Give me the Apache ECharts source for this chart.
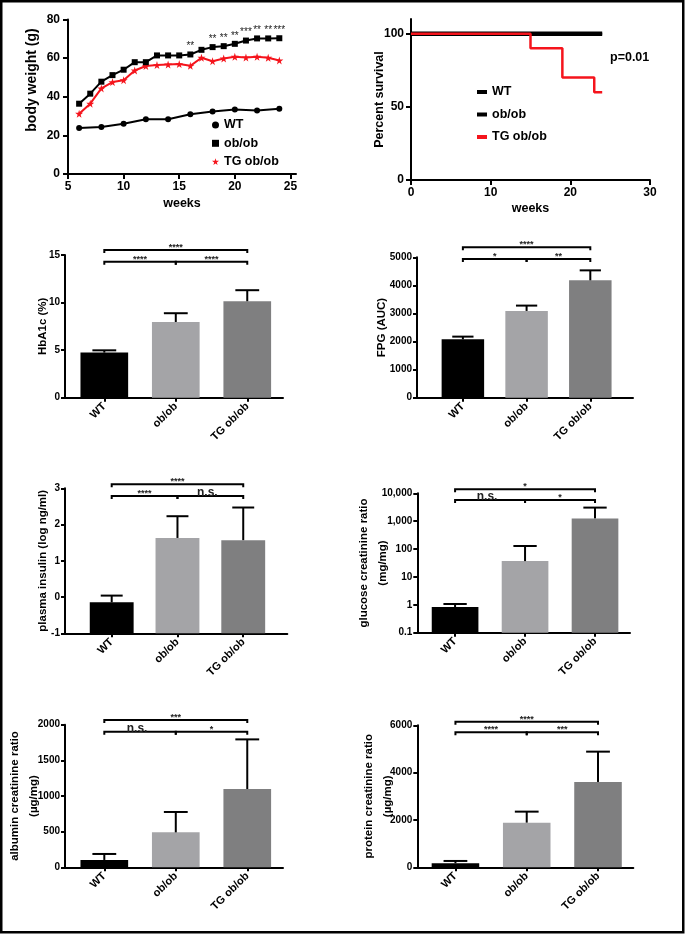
<!DOCTYPE html>
<html><head><meta charset="utf-8">
<script src="https://cdn.jsdelivr.net/npm/echarts@6/dist/echarts.min.js"></script>
<style>html,body{margin:0;padding:0;background:#fff}#c{width:685px;height:934px}</style>
</head><body><div id="c"></div>
<script>
// ---------------- data ----------------
const groups = ['WT', 'ob/ob', 'TG ob/ob'];

// body weight panel
const weightWeeks = [6,7,8,9,10,11,12,13,14,15,16,17,18,19,20,21,22,23,24];
const wtWeeks = [6,8,10,12,14,16,18,20,22,24];
const wtWeight = [23.8,24.3,26.0,28.4,28.4,30.9,32.4,33.4,32.9,33.8];
const obWeight = [36.4,41.6,47.8,51.2,54.0,57.9,57.9,61.4,61.4,61.4,61.9,64.3,65.7,66.2,67.4,69.1,70.2,70.2,70.3];
const tgWeight = [31.2,36.4,44.3,47.6,48.6,53.6,55.9,56.4,56.7,56.9,56.0,60.2,58.4,59.8,60.7,60.3,60.7,60.2,58.8];
const weightStars = ['','','','','','','','','','','**','','**','**','**','***','**','**','***'];
const weightXTicks = [5,10,15,20,25];

// survival panel
const survWeeksCtrl = [0,24];
const survWT = [100,100];
const survOb = [100,100];
const survWeeksTG = [0,15,19,23,24];
const survTG = [100,90,70,60,60];
const survYTicks = [0,50,100];
const survP = 'p=0.01';

// bar panels: mean and upper error (SEM)
const hba1cMean = [4.74, 7.96, 10.14];
const hba1cErr  = [0.24, 0.92, 1.16];
const hba1cSig  = ['****','****','****'];

const fpgMean = [2080, 3090, 4180];
const fpgErr  = [95, 190, 355];
const fpgSig  = ['****','*','**'];

const insulinMean = [-0.145, 1.63, 1.57];
const insulinErr  = [0.185, 0.60, 0.90];
const insulinSig  = ['****','****','n.s.'];

const glucoseMean = [0.83, 37, 1260];
const glucoseErr  = [0.24, 92, 1810];
const glucoseSig  = ['*','n.s.','*'];
const glucoseTicks = ['0.1','1','10','100','1,000','10,000'];

const albuminMean = [103, 490, 1098];
const albuminErr  = [84, 286, 696];
const albuminSig  = ['***','n.s.','*'];

const proteinMean = [169, 1887, 3606];
const proteinErr  = [99, 465, 1281];
const proteinSig  = ['****','****','***'];

// comparisons: [from, to, row]  (row 0 = upper bracket, row 1 = lower)
const comparisons = [[0,2,0],[0,1,1],[1,2,1]];

// ---------------- chart ----------------
const FONT = '"Liberation Sans", Arial, Helvetica, sans-serif';
const RED = '#f5141c';
const barColors = ['#000000', '#a4a4a7', '#7f7f80'];
const starPath = 'path://M50,0 L61,35 L98,35 L68,57 L79,91 L50,70 L21,91 L32,57 L2,35 L39,35 Z';
const plain = v => String(v);

const AX_LINE = {show:true, onZero:false, lineStyle:{color:'#000', width:2}};
const tickStyle = (len) => ({show:true, length:len, lineStyle:{color:'#000', width:2}});
const lblStyle = (size, extra) => Object.assign({color:'#000', fontWeight:'bold', fontSize:size, fontFamily:FONT}, extra||{});

const grids = [];
const xAxes = [];
const yAxes = [];
const series = [];

// Panel 0: body weight
grids.push({left:68, top:19.5, width:228, height:154.5});
xAxes.push({type:'value', gridIndex:0, min:5, max:25.5,
  name:'weeks', nameLocation:'middle', nameGap:23, nameMoveOverlap:false, nameTextStyle:lblStyle(12.5),
  axisLine:AX_LINE, axisTick:Object.assign(tickStyle(5),{customValues:weightXTicks}),
  axisLabel:lblStyle(12,{margin:7, customValues:weightXTicks, formatter:plain}), splitLine:{show:false}});
yAxes.push({type:'value', gridIndex:0, min:0, max:80, interval:20,
  axisLine:AX_LINE, axisTick:tickStyle(5), axisLabel:lblStyle(12,{margin:8, formatter:plain}), splitLine:{show:false}});
series.push({type:'line', name:'WT', xAxisIndex:0, yAxisIndex:0,
  data: wtWeeks.map((w,i)=>[w, wtWeight[i]]), symbol:'circle', symbolSize:6,
  itemStyle:{color:'#000'}, lineStyle:{color:'#000', width:2}, z:3});
series.push({type:'line', name:'TG ob/ob', xAxisIndex:0, yAxisIndex:0,
  data: weightWeeks.map((w,i)=>[w, tgWeight[i]]), symbol:starPath, symbolSize:8,
  itemStyle:{color:RED}, lineStyle:{color:RED, width:2}, z:3});
series.push({type:'line', name:'ob/ob', xAxisIndex:0, yAxisIndex:0,
  data: weightWeeks.map((w,i)=>[w, obWeight[i]]), symbol:'rect', symbolSize:6,
  itemStyle:{color:'#000'}, lineStyle:{color:'#000', width:2}, z:4,
  label:{show:true, position:'top', distance:0, fontSize:10, color:'#222', fontFamily:FONT,
    formatter: p => weightStars[p.dataIndex]}});

// Panel 1: survival
grids.push({left:411, top:19, width:239, height:161});
xAxes.push({type:'value', gridIndex:1, min:0, max:30, interval:10,
  name:'weeks', nameLocation:'middle', nameGap:22, nameMoveOverlap:false, nameTextStyle:lblStyle(12.5),
  axisLine:AX_LINE, axisTick:tickStyle(5), axisLabel:lblStyle(12,{margin:7, formatter:plain}), splitLine:{show:false}});
yAxes.push({type:'value', gridIndex:1, min:0, max:110,
  name:'Percent survival', nameLocation:'middle', nameGap:25, nameMoveOverlap:false, nameTextStyle:lblStyle(12.5),
  axisLine:AX_LINE, axisTick:Object.assign(tickStyle(5),{customValues:survYTicks}),
  axisLabel:lblStyle(12,{margin:7, customValues:survYTicks, formatter:plain}), splitLine:{show:false}});
series.push({type:'line', name:'WT', xAxisIndex:1, yAxisIndex:1, step:'end',
  data: survWeeksCtrl.map((w,i)=>[w, survWT[i]]), showSymbol:false,
  itemStyle:{color:'#000'}, lineStyle:{color:'#000', width:4.5}, z:3});
series.push({type:'line', name:'ob/ob', xAxisIndex:1, yAxisIndex:1, step:'end',
  data: survWeeksCtrl.map((w,i)=>[w, survOb[i]]), showSymbol:false,
  itemStyle:{color:'#000'}, lineStyle:{color:'#000', width:2}, z:3});
series.push({type:'line', name:'TG ob/ob', xAxisIndex:1, yAxisIndex:1, step:'end',
  data: survWeeksTG.map((w,i)=>[w, survTG[i]]), showSymbol:false,
  itemStyle:{color:RED}, lineStyle:{color:RED, width:2.5}, z:3});

// Bar panels
const barPanels = [
  {name:'HbA1c (%)', mean:hba1cMean, err:hba1cErr, sig:hba1cSig,
   grid:{left:65, top:255, width:218, height:142.7}, xr:[-0.55,2.5],
   y:{type:'value', min:0, max:15, interval:5}, nameGap:12.5, offs:[-5,6.7]},
  {name:'FPG (AUC)', mean:fpgMean, err:fpgErr, sig:fpgSig,
   grid:{left:417, top:257.3, width:216, height:140.4}, xr:[-0.72,2.67],
   y:{type:'value', min:0, max:5000, interval:1000}, nameGap:25.8, offs:[-10,1.7]},
  {name:'plasma insulin (log ng/ml)', mean:insulinMean, err:insulinErr, sig:insulinSig,
   grid:{left:65, top:488.3, width:222.3, height:145}, xr:[-0.71,2.67],
   y:{type:'value', min:-1, max:3, interval:1}, nameGap:12.8, offs:[-4,7.7]},
  {name:'glucose creatinine ratio\n(mg/mg)', mean:glucoseMean, err:glucoseErr, sig:glucoseSig,
   grid:{left:417.3, top:493.3, width:212.7, height:139.4}, xr:[-0.54,2.5],
   y:{type:'log', logBase:10, min:0.1, max:10000}, nameGap:24.5, offs:[-4,6.7],
   fmt: v => glucoseTicks[Math.round(Math.log10(v)) + 1]},
  {name:'albumin creatinine ratio\n(\u00b5g/mg)', mean:albuminMean, err:albuminErr, sig:albuminSig,
   grid:{left:65, top:724.7, width:218, height:142.6}, xr:[-0.55,2.5],
   y:{type:'value', min:0, max:2000, interval:500}, nameGap:22, offs:[-4.7,7]},
  {name:'protein creatinine ratio\n(\u00b5g/mg)', mean:proteinMean, err:proteinErr, sig:proteinSig,
   grid:{left:417.3, top:725.3, width:216, height:142}, xr:[-0.535,2.495],
   y:{type:'value', min:0, max:6000, interval:2000}, nameGap:19.5, offs:[-3.6,7]}
];

barPanels.forEach((p, k) => {
  const gi = grids.length;
  grids.push(p.grid);
  xAxes.push({type:'value', gridIndex:gi, min:p.xr[0], max:p.xr[1],
    axisLine:AX_LINE, axisTick:Object.assign(tickStyle(4),{customValues:[0,1,2]}),
    axisLabel:lblStyle(11,{margin:7, rotate:45, customValues:[0,1,2], formatter: v => groups[Math.round(v)]}),
    splitLine:{show:false}});
  const ya = Object.assign({gridIndex:gi, name:p.name, nameLocation:'middle', nameGap:p.nameGap,
    nameMoveOverlap:false, nameTextStyle:lblStyle(11.5,{lineHeight:19}),
    axisLine:AX_LINE, axisTick:tickStyle(4), axisLabel:lblStyle(10,{margin:5, formatter:p.fmt || plain}),
    splitLine:{show:false}, minorTick:{show:false}}, p.y);
  yAxes.push(ya);
  const yMin = p.y.min, yMax = p.y.max;
  series.push({type:'custom', xAxisIndex:gi, yAxisIndex:gi, clip:false, silent:true, z:2,
    data: p.mean.map((m,i)=>[i, m, p.err[i]]),
    renderItem: (params, api) => {
      const x = api.value(0), m = api.value(1), e = api.value(2);
      const w = api.size([0.667, 0])[0];
      const top = api.coord([x, m]);
      const base = api.coord([x, yMin]);
      const et = api.coord([x, m + e]);
      return {type:'group', children:[
        {type:'rect', shape:{x:top[0]-w/2, y:top[1], width:w, height:base[1]-top[1]},
          style:{fill:barColors[params.dataIndex]}},
        {type:'line', shape:{x1:top[0], y1:top[1], x2:top[0], y2:et[1]}, style:{stroke:'#000', lineWidth:2}},
        {type:'line', shape:{x1:top[0]-w/4, y1:et[1], x2:top[0]+w/4, y2:et[1]}, style:{stroke:'#000', lineWidth:2}}
      ]};
    }});
  series.push({type:'custom', xAxisIndex:gi, yAxisIndex:gi, clip:false, silent:true, z:5,
    data: comparisons.map((c,j)=>[c[0], c[1], c[2], j]),
    renderItem: (params, api) => {
      const a = api.value(0), b = api.value(1), row = api.value(2), j = api.value(3);
      const pa = api.coord([a, yMax]), pb = api.coord([b, yMax]);
      const y = pa[1] + p.offs[row];
      const label = p.sig[j];
      const ns = label === 'n.s.';
      return {type:'group', children:[
        {type:'polyline', shape:{points:[[pa[0],y+3],[pa[0],y],[pb[0],y],[pb[0],y+3]]},
          style:{stroke:'#000', lineWidth:2, fill:null}},
        {type:'text', x:(pa[0]+pb[0])/2 - (ns ? 3 : 0), y: ns ? y+2.5 : y+2,
          style:{text:label, align:'center', verticalAlign:'bottom',
            fontSize: ns ? 12 : 9, fontWeight:'bold', fill:'#222', fontFamily:FONT}}
      ]};
    }});
});

const option = {
  backgroundColor:'#ffffff',
  animation:false,
  textStyle:{fontFamily:FONT},
  grid: grids.map(g => Object.assign({outerBoundsMode:'none', containLabel:false}, g)),
  xAxis: xAxes,
  yAxis: yAxes,
  legend: [
    {orient:'vertical', left:207, top:113, itemWidth:7, itemHeight:7, itemGap:4.3, selectedMode:false,
     textStyle:lblStyle(12.5,{lineHeight:14}),
     data:[{name:'WT', icon:'circle'}, {name:'ob/ob', icon:'rect'}, {name:'TG ob/ob', icon:starPath}]},
    {orient:'vertical', left:472, top:80, itemWidth:10, itemHeight:4, itemGap:8.5, selectedMode:false,
     textStyle:lblStyle(12.5,{lineHeight:14}),
     data:[{name:'WT', icon:'rect'}, {name:'ob/ob', icon:'rect'}, {name:'TG ob/ob', icon:'rect'}]}
  ],
  graphic: [
    {type:'rect', shape:{x:1.25, y:1.25, width:682, height:931}, style:{fill:null, stroke:'#000', lineWidth:2.5}, silent:true},
    {type:'text', left:610, top:51, style:{text:survP, fontSize:12.5, fontWeight:'bold', fill:'#000', fontFamily:FONT}},
    {type:'text', x:32, y:80, rotation:Math.PI/2,
     style:{text:'body weight (g)', align:'center', verticalAlign:'middle', fontSize:14, fontWeight:'bold', fill:'#000', fontFamily:FONT}}
  ],
  series: series
};
const chart = echarts.init(document.getElementById('c'), null, {renderer:'canvas'});
chart.setOption(option);
</script></body></html>
